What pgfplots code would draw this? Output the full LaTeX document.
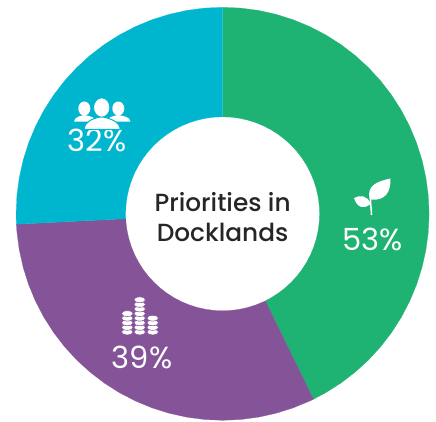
\documentclass[border=0pt]{standalone}
\usepackage{fontspec}
\setmainfont{Poppins}
\newfontfamily\med{Poppins Medium}
\usepackage{pgfplots}
\pgfplotsset{compat=1.18}
\definecolor{ringgreen}{RGB}{30,178,115}
\definecolor{ringpurple}{RGB}{133,84,152}
\definecolor{ringteal}{RGB}{0,182,207}
\newcommand{\coin}[2]{\filldraw[white,draw=ringpurple,line width=0.55pt] (#1,#2) ellipse [x radius=5.8,y radius=2.9];}
\begin{document}
\begin{tikzpicture}
\path[use as bounding box] (0pt,0pt) rectangle (436pt,422pt);
\begin{axis}[
  at={(0pt,0pt)},
  anchor=south west,
  width=436pt,
  height=422pt,
  scale only axis,
  hide axis,
  clip=false,
  xmin=-222.6, xmax=213.4,
  ymin=-208.2, ymax=213.8,
]
% ring sectors as (angle, radius), values 53, 39, 32 of 124
\addplot[data cs=polar, fill=ringgreen, draw=ringgreen, line width=0.2pt] coordinates {
  (90,206.5) (85,206.5) (80,206.5) (75,206.5) (70,206.5) (65,206.5) (60,206.5) (55,206.5)
  (50,206.5) (45,206.5) (40,206.5) (35,206.5) (30,206.5) (25,206.5) (20,206.5) (15,206.5)
  (10,206.5) (5,206.5) (0,206.5) (-5,206.5) (-10,206.5) (-15,206.5) (-20,206.5) (-25,206.5)
  (-30,206.5) (-35,206.5) (-40,206.5) (-45,206.5) (-50,206.5) (-55,206.5) (-60,206.5) (-63.9,206.5)
  (-63.9,97) (-60,97) (-55,97) (-50,97) (-45,97) (-40,97) (-35,97) (-30,97)
  (-25,97) (-20,97) (-15,97) (-10,97) (-5,97) (0,97) (5,97) (10,97)
  (15,97) (20,97) (25,97) (30,97) (35,97) (40,97) (45,97) (50,97)
  (55,97) (60,97) (65,97) (70,97) (75,97) (80,97) (85,97) (90,97)
} --cycle;
\addplot[data cs=polar, fill=ringpurple, draw=ringpurple, line width=0.2pt] coordinates {
  (-63.9,206.5) (-65,206.5) (-70,206.5) (-75,206.5) (-80,206.5) (-85,206.5) (-90,206.5) (-95,206.5)
  (-100,206.5) (-105,206.5) (-110,206.5) (-115,206.5) (-120,206.5) (-125,206.5) (-130,206.5)
  (-135,206.5) (-140,206.5) (-145,206.5) (-150,206.5) (-155,206.5) (-160,206.5) (-165,206.5)
  (-170,206.5) (-175,206.5) (-177.1,206.5)
  (-177.1,97) (-175,97) (-170,97) (-165,97) (-160,97) (-155,97) (-150,97) (-145,97)
  (-140,97) (-135,97) (-130,97) (-125,97) (-120,97) (-115,97) (-110,97) (-105,97)
  (-100,97) (-95,97) (-90,97) (-85,97) (-80,97) (-75,97) (-70,97) (-65,97) (-63.9,97)
} --cycle;
\addplot[data cs=polar, fill=ringteal, draw=ringteal, line width=0.2pt] coordinates {
  (-177.1,206.5) (-180,206.5) (-185,206.5) (-190,206.5) (-195,206.5) (-200,206.5) (-205,206.5)
  (-210,206.5) (-215,206.5) (-220,206.5) (-225,206.5) (-230,206.5) (-235,206.5) (-240,206.5)
  (-245,206.5) (-250,206.5) (-255,206.5) (-260,206.5) (-265,206.5) (-270,206.5)
  (-270,97) (-265,97) (-260,97) (-255,97) (-250,97) (-245,97) (-240,97) (-235,97)
  (-230,97) (-225,97) (-220,97) (-215,97) (-210,97) (-205,97) (-200,97) (-195,97)
  (-190,97) (-185,97) (-180,97) (-177.1,97)
} --cycle;
\node[white, font=\fontsize{30.5}{30.5}\selectfont] at (axis cs:149.7,-25.5) {53\%};
\node[white, font=\fontsize{30.5}{30.5}\selectfont] at (axis cs:-80.5,-143.5) {39\%};
\node[white, font=\fontsize{30.5}{30.5}\selectfont] at (axis cs:-125.5,73.5) {32\%};
\node[black!85, font=\med\fontsize{24.8}{30}\selectfont, align=center] at (axis cs:0,-3) {Priorities in\\Docklands};
\end{axis}
% icons, in reference pixels
\begin{scope}[x=1pt,y=-1pt,shift={(0pt,422pt)}]
  % leaf
  \fill[white] (369.5,198.5) .. controls (367,186) and (376,181.5) .. (390.5,178.5) .. controls (391,192) and (385,201) .. (371.5,199.5) -- cycle;
  \fill[white] (354,198) .. controls (360,194.5) and (368,195.5) .. (370.5,204) .. controls (364,209.5) and (357,208) .. (354,198) -- cycle;
  \draw[white,line width=1.6pt] (371.5,215) .. controls (371.5,208) and (370,204) .. (370.5,197);
  % people
  \fill[white] (84.3,108.5) ellipse [x radius=6,y radius=7];
  \fill[white] (118.3,108.5) ellipse [x radius=6,y radius=7];
  \fill[white] (74,121.7) .. controls (74.5,117) and (80,116) .. (84,115) .. controls (90,116) and (95,117) .. (96,121.7) -- cycle;
  \fill[white] (107,121.7) .. controls (108,117) and (113,116) .. (118,115) .. controls (124,116) and (130,117) .. (130.5,121.7) -- cycle;
  \filldraw[white,draw=ringteal,line width=1pt] (84,129.5) .. controls (85,121) and (92,119) .. (101.7,116.5) .. controls (111,119) and (119,121) .. (120.5,129.5) -- cycle;
  \filldraw[white,draw=ringteal,line width=1pt] (101.7,107.5) ellipse [x radius=8.2,y radius=9.7];
  % coins
  \foreach \y in {332,327.4,322.8,318.2,313.6}{\coin{127.3}{\y}}
  \foreach \y in {332,327.4,322.8,318.2,313.6,309,304.4,299.8}{\coin{139.7}{\y}}
  \foreach \y in {332,327.4,322.8,318.2}{\coin{152.7}{\y}}
\end{scope}
\end{tikzpicture}
\end{document}
